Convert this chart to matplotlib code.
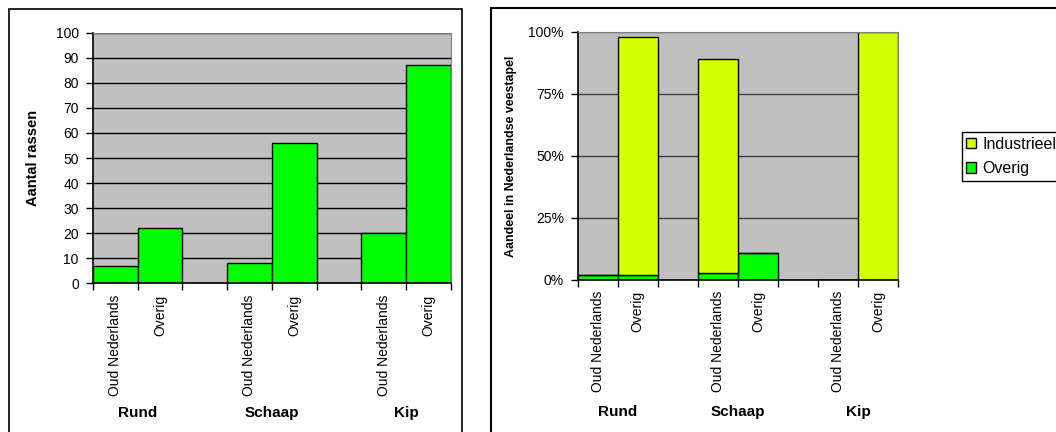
import matplotlib.pyplot as plt
from matplotlib.patches import Rectangle
from matplotlib.ticker import FuncFormatter

plt.rcParams['font.family'] = ['Liberation Sans', 'DejaVu Sans']

soorten = ['Rund', 'Schaap', 'Kip']
rassen_labels = ['Oud Nederlands', 'Overig']

# aantal rassen per diersoort: (oud nederlands, overig)
aantal_oud = [7, 8, 20]
aantal_overig = [22, 56, 87]

# aandeel in de nederlandse veestapel (%), per balk: oud nl / overig
aandeel_overig = [2, 2, 3, 11, 0, 0]
aandeel_industrieel = [0, 95.7, 86, 0, 0, 100]

GROEN = '#00ff00'
GEEL = '#d4ff00'
GRIJS = '#c0c0c0'

posities = [0, 1, 3, 4, 6, 7]
tick_labels = rassen_labels * 3

fig = plt.figure(figsize=(10.56, 4.32), dpi=100)

# kaders rond beide grafieken
fig.patches.append(Rectangle((9 / 1056, -0.1), (462 - 9) / 1056, 1.1 - 9 / 432,
                             transform=fig.transFigure, fill=False,
                             edgecolor='black', lw=1.2))
fig.patches.append(Rectangle((491 / 1056, -0.1), 0.6, 1.1 - 8.5 / 432,
                             transform=fig.transFigure, fill=False,
                             edgecolor='black', lw=1.5))

ax1 = fig.add_axes([0.0878, 0.3442, 0.3393, 0.5801])
ax2 = fig.add_axes([0.5471, 0.3519, 0.3036, 0.5748])


def opmaak(ax, groep_y):
    ax.set_facecolor(GRIJS)
    ax.set_xlim(-0.5, 7.5)
    ax.set_xticks(posities)
    ax.set_xticklabels(tick_labels, rotation=90, va='top', ha='center', fontsize=10)
    ax.set_xticks([i - 0.5 for i in range(9)], minor=True)
    ax.tick_params(axis='x', which='major', length=0, pad=8)
    ax.tick_params(axis='x', which='minor', length=5, width=1, color='black')
    ax.tick_params(axis='y', length=5, width=1, pad=5, labelsize=10)
    ax.set_axisbelow(True)
    for kant in ['top', 'right']:
        ax.spines[kant].set_color('#808080')
    for kant in ['left', 'bottom']:
        ax.spines[kant].set_color('black')
        ax.spines[kant].set_linewidth(1.2)
    for i, s in enumerate(soorten):
        ax.text(posities[2 * i] + 0.5, groep_y, s, transform=ax.get_xaxis_transform(),
                ha='center', va='center', fontsize=11, fontweight='bold')


# links: aantal rassen
for i in range(3):
    ax1.bar(posities[2 * i], aantal_oud[i], width=1, color=GROEN,
            edgecolor='black', lw=1)
    ax1.bar(posities[2 * i + 1], aantal_overig[i], width=1, color=GROEN,
            edgecolor='black', lw=1)
ax1.set_ylim(0, 100)
ax1.set_yticks(range(0, 101, 10))
ax1.yaxis.grid(True, color='black', lw=1)
ax1.set_ylabel('Aantal rassen', fontsize=10.5, fontweight='bold')
ax1.yaxis.set_label_coords(-0.147, 0.5)
opmaak(ax1, -0.518)

# rechts: aandeel in veestapel, gestapeld
ax2.bar(posities, aandeel_overig, width=1, color=GROEN, edgecolor='black',
        lw=1, label='Overig')
ax2.bar(posities, aandeel_industrieel, width=1, bottom=aandeel_overig,
        color=GEEL, edgecolor='black', lw=1, label='Industrieel')
ax2.set_ylim(0, 100)
ax2.set_yticks(range(0, 101, 25))
ax2.yaxis.set_major_formatter(FuncFormatter(lambda v, p: f'{v:.0f}%'))
ax2.yaxis.grid(True, color='#404040', lw=1)
ax2.set_ylabel('Aandeel in Nederlandse veestapel', fontsize=8.9, fontweight='bold')
ax2.yaxis.set_label_coords(-0.189, 0.5)
opmaak(ax2, -0.53)

h, l = ax2.get_legend_handles_labels()
fig.legend(h[::-1], l[::-1], loc='upper left', bbox_to_anchor=(0.9107, 0.6951),
           fontsize=11.5, frameon=True, fancybox=False, edgecolor='black',
           framealpha=1, handlelength=0.6, handleheight=0.6, handletextpad=0.4,
           borderpad=0.3, labelspacing=0.6, borderaxespad=0)

fig.savefig('out.png', dpi=100)
